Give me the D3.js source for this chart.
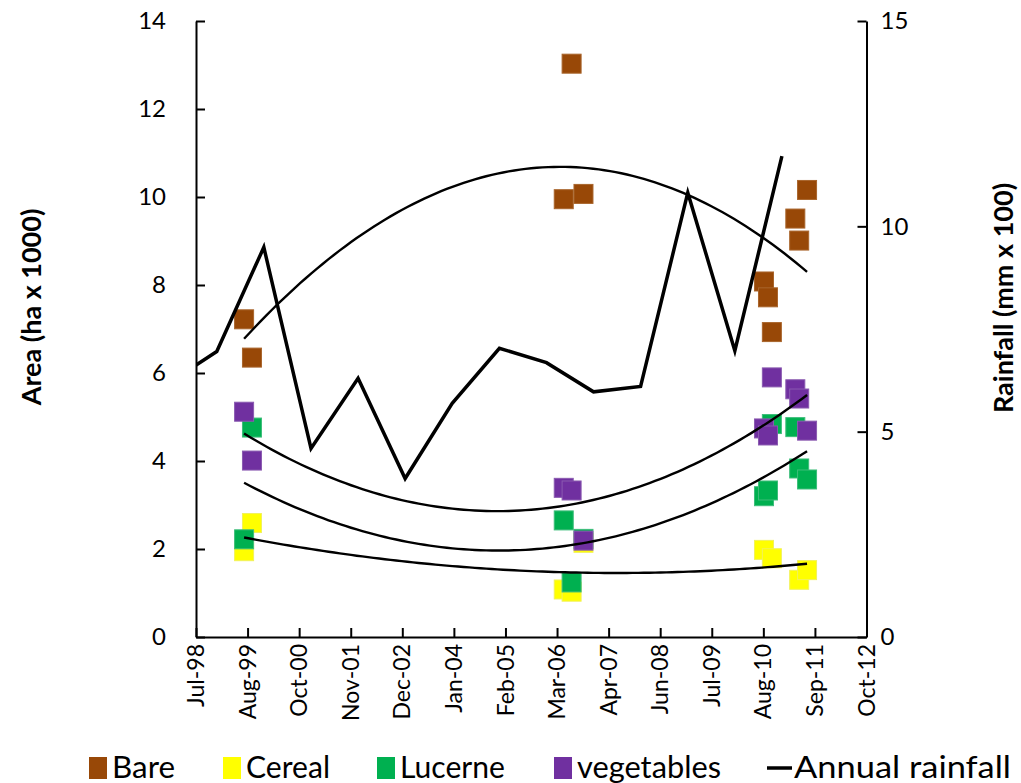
<!DOCTYPE html>
<html><head><meta charset="utf-8">
<script src="https://cdn.jsdelivr.net/npm/d3@7"></script>
<style>
body{margin:0;background:#fff}
text{font-family:Lato,"DejaVu Sans",sans-serif;fill:#000}
</style></head>
<body><svg id="c" width="1021" height="783"></svg>
<script>
// ---- data ----
const sampleDates = ["1999-08-01","1999-10-01","2006-05-15","2006-07-15","2006-10-15",
  "2010-08-15","2010-09-15","2010-10-15","2011-04-15","2011-05-15","2011-07-15"];
const bare       = [7.22, 6.35, 9.95, 13.03, 10.07, 8.08, 7.72, 6.93, 9.51, 9.01, 10.16];
const cereal     = [1.95, 2.59, 1.08, 1.03, 2.14, 1.98, null, 1.79, null, 1.30, 1.52];
const lucerne    = [2.22, 4.76, 2.65, 1.24, 2.23, 3.20, 3.33, 4.84, 4.77, 3.83, 3.58];
const vegetables = [5.12, 4.01, 3.39, 3.33, 2.19, 4.74, 4.58, 5.90, 5.63, 5.42, 4.69];
const rainYears  = [1998,1999,2000,2001,2002,2003,2004,2005,2006,2007,2008,2009,2010,2011];
const rainfall   = [6.2, 6.95, 9.49, 4.59, 6.30, 3.86, 5.69, 7.03, 6.68, 5.97, 6.10, 10.82, 6.97, 11.71];
const xTickLabels = ["Jul-98","Aug-99","Oct-00","Nov-01","Dec-02","Jan-04","Feb-05","Mar-06",
  "Apr-07","Jun-08","Jul-09","Aug-10","Sep-11","Oct-12"];
const xStart = "1998-07-24", xTickStepDays = 400;
const yLeftTicks = [0,2,4,6,8,10,12,14];
const yRightTicks = [0,5,10,15];
const seriesNames = ["Bare","Cereal","Lucerne","vegetables"];
const seriesColors = ["#984807","#FFFF00","#00B050","#7030A0"];
const seriesStroke = ["#a9652c","#f2f25a","#3dbd7a","#8a5ab0"];
const seriesData = [bare, cereal, lucerne, vegetables];

// ---- layout ----
const svg = d3.select("#c");
const L = 196, R = 866.5, T = 21, B = 637;
const DAY = 864e5;
const t0 = new Date(xStart + "T00:00:00Z");
const tickDates = xTickLabels.map((_, i) => new Date(+t0 + i * xTickStepDays * DAY));
const x = d3.scaleUtc().domain([tickDates[0], tickDates[tickDates.length - 1]]).range([L, R]);
const yL = d3.scaleLinear().domain([0, 14]).range([B, T]);
const yR = d3.scaleLinear().domain([0, 15]).range([B, T]);
const parse = s => new Date(s + "T00:00:00Z");

// axes
const gL = svg.append("g").attr("transform", `translate(${L},0)`)
  .call(d3.axisLeft(yL).tickValues(yLeftTicks).tickSizeInner(-9).tickSizeOuter(0).tickPadding(30));
const gR = svg.append("g").attr("transform", `translate(${R},0)`)
  .call(d3.axisRight(yR).tickValues(yRightTicks).tickSizeInner(-9).tickSizeOuter(0).tickPadding(14));
const gB = svg.append("g").attr("transform", `translate(0,${B})`)
  .call(d3.axisBottom(x).tickValues(tickDates).tickFormat(() => "").tickSizeInner(-9).tickSizeOuter(0));
[gL, gR, gB].forEach(g => {
  g.selectAll("path.domain").attr("stroke", "#000").attr("stroke-width", 2);
  g.selectAll(".tick line").attr("stroke", "#000").attr("stroke-width", 2);
  g.selectAll(".tick text").style("font-size", "24px").style("font-family", "Lato");
});
gB.selectAll(".tick text").remove();
svg.append("g").selectAll("text").data(tickDates).join("text")
  .attr("transform", d => `translate(${x(d)},${B + 7}) rotate(-90)`)
  .attr("dy", "0.35em").attr("text-anchor", "end").style("font-size", "23px")
  .text((d, i) => xTickLabels[i]);

// axis titles
svg.append("text").attr("transform", `translate(32,307) rotate(-90)`)
  .attr("text-anchor", "middle").attr("dy", "0.35em")
  .style("font-size", "27px").style("font-weight", "bold").text("Area (ha x 1000)");
svg.append("text").attr("transform", `translate(1004,298) rotate(-90)`)
  .attr("text-anchor", "middle").attr("dy", "0.35em")
  .style("font-size", "27px").style("font-weight", "bold").text("Rainfall (mm x 100)");

// markers
const dates = sampleDates.map(parse);
const MS = 19;
seriesData.forEach((vals, si) => {
  const pts = vals.map((v, i) => ({d: dates[i], v})).filter(p => p.v != null);
  svg.append("g").selectAll("rect").data(pts).join("rect")
    .attr("x", p => x(p.d) - MS / 2).attr("y", p => yL(p.v) - MS / 2)
    .attr("width", MS).attr("height", MS)
    .attr("fill", seriesColors[si]).attr("stroke", seriesStroke[si]).attr("stroke-width", 1);
});

// quadratic trendlines
function quadFit(xs, ys) {
  const x0 = d3.mean(xs);
  const u = xs.map(v => (v - x0) / 1000);
  let S = [0,0,0,0,0], Ty = [0,0,0];
  u.forEach((ui, i) => {
    for (let k = 0; k < 5; k++) S[k] += Math.pow(ui, k);
    for (let k = 0; k < 3; k++) Ty[k] += ys[i] * Math.pow(ui, k);
  });
  const A = [[S[0],S[1],S[2],Ty[0]],[S[1],S[2],S[3],Ty[1]],[S[2],S[3],S[4],Ty[2]]];
  for (let c = 0; c < 3; c++) {
    for (let r = c + 1; r < 3; r++) {
      const f = A[r][c] / A[c][c];
      for (let k = c; k < 4; k++) A[r][k] -= f * A[c][k];
    }
  }
  const co = [0,0,0];
  for (let r = 2; r >= 0; r--) {
    let s = A[r][3];
    for (let k = r + 1; k < 3; k++) s -= A[r][k] * co[k];
    co[r] = s / A[r][r];
  }
  return xv => { const q = (xv - x0) / 1000; return co[0] + co[1] * q + co[2] * q * q; };
}
seriesData.forEach(vals => {
  const pts = vals.map((v, i) => ({t: dates[i].getTime() / DAY, v})).filter(p => p.v != null);
  const f = quadFit(pts.map(p => p.t), pts.map(p => p.v));
  const [a, b] = d3.extent(pts, p => p.t);
  const samp = d3.range(0, 101).map(k => a + (b - a) * k / 100);
  svg.append("path").datum(samp)
    .attr("d", d3.line().x(t => x(new Date(t * DAY))).y(t => yL(f(t))))
    .attr("fill", "none").attr("stroke", "#000").attr("stroke-width", 2.4);
});

// rainfall line (secondary axis), clipped to plot area
svg.append("clipPath").attr("id", "clip").append("rect")
  .attr("x", L).attr("y", 0).attr("width", R - L).attr("height", B);
svg.append("path").datum(rainYears.map((yr, i) => ({d: new Date(Date.UTC(yr, 0, 1)), v: rainfall[i]})))
  .attr("clip-path", "url(#clip)")
  .attr("d", d3.line().x(p => x(p.d)).y(p => yR(p.v)))
  .attr("fill", "none").attr("stroke", "#000").attr("stroke-width", 3.5).attr("stroke-linejoin", "miter");

// legend
const legY = 768, legBase = 778;
const legItems = [
  {name: seriesNames[0], color: seriesColors[0], mx: 98, tx: 112, w: 63},
  {name: seriesNames[1], color: seriesColors[1], mx: 232, tx: 246, w: 84},
  {name: seriesNames[2], color: seriesColors[2], mx: 386, tx: 400, w: 105},
  {name: seriesNames[3], color: seriesColors[3], mx: 563, tx: 577, w: 144},
];
const lg = svg.append("g");
legItems.forEach(it => {
  lg.append("rect").attr("x", it.mx - 9).attr("y", legY - 11).attr("width", 18).attr("height", 22)
    .attr("fill", it.color);
  lg.append("text").attr("x", it.tx).attr("y", legBase)
    .attr("textLength", it.w).attr("lengthAdjust", "spacingAndGlyphs")
    .style("font-size", "30px").text(it.name);
});
lg.append("line").attr("x1", 767).attr("x2", 792).attr("y1", legY).attr("y2", legY)
  .attr("stroke", "#000").attr("stroke-width", 3.5);
lg.append("text").attr("x", 794).attr("y", legBase)
  .attr("textLength", 217).attr("lengthAdjust", "spacingAndGlyphs")
  .style("font-size", "30px").text("Annual rainfall");
</script></body></html>
